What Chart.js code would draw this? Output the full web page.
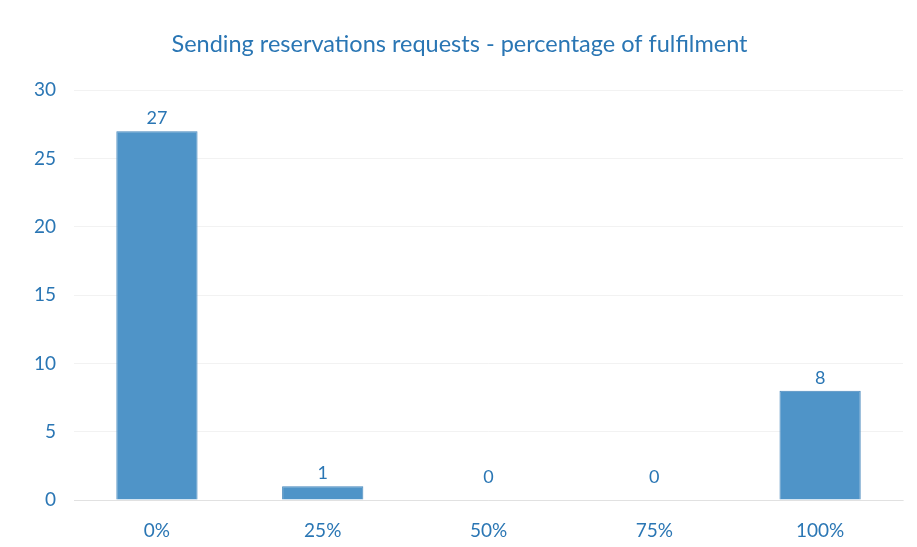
<!DOCTYPE html>
<html>
<head>
<meta charset="utf-8">
<script src="https://cdn.jsdelivr.net/npm/chart.js@4"></script>
<style>
  html, body { margin: 0; padding: 0; background: #ffffff; }
  #wrap { width: 917px; height: 547px; }
</style>
</head>
<body>
<div id="wrap"><canvas id="fulfilChart"></canvas></div>
<script>
// data
var categories = ["0%", "25%", "50%", "75%", "100%"];
var requestCounts = [27, 1, 0, 0, 8];
var yTicks = [0, 5, 10, 15, 20, 25, 30];

var textBlue = '#2a76b4';

// value labels above bars
var valueLabels = {
    id: 'valueLabels',
    afterDatasetsDraw: function(chart) {
        var ctx = chart.ctx;
        var meta = chart.getDatasetMeta(0);
        ctx.save();
        ctx.fillStyle = textBlue;
        ctx.font = '18px Lato';
        ctx.textAlign = 'center';
        ctx.textBaseline = 'bottom';
        meta.data.forEach(function(bar, i) {
            var v = chart.data.datasets[0].data[i];
            var y = bar.y - (v === 0 ? 14 : 4);
            ctx.fillText(String(v), bar.x, y);
        });
        ctx.restore();
    }
};

var ctx = document.getElementById('fulfilChart').getContext('2d');
new Chart(ctx, {
    type: 'bar',
    data: {
        labels: categories,
        datasets: [{
            label: '',
            data: requestCounts,
            backgroundColor: '#4f94c8',
            borderColor: '#4587bc',
            borderWidth: 1,
            barPercentage: 0.49,
            categoryPercentage: 1.0
        }]
    },
    options: {
        responsive: true,
        maintainAspectRatio: false,
        animation: false,
        layout: {
            padding: { top: 20, left: 16, right: 14, bottom: -14 }
        },
        scales: {
            x: {
                grid: { display: false, drawTicks: false },
                border: { color: 'rgba(0,0,0,0.07)' },
                ticks: {
                    color: textBlue,
                    padding: 21,
                    font: { family: 'Lato', size: 19, lineHeight: 1 }
                }
            },
            y: {
                min: 0,
                max: 30,
                afterBuildTicks: function(axis) {
                    axis.ticks = yTicks.map(function(v) { return { value: v }; });
                },
                grid: {
                    color: 'rgba(0,0,0,0.05)',
                    drawTicks: false
                },
                border: { display: false },
                ticks: {
                    color: textBlue,
                    padding: 18,
                    font: { family: 'Lato', size: 19 }
                }
            }
        },
        plugins: {
            legend: { display: false },
            tooltip: { enabled: false },
            title: {
                display: true,
                text: 'Sending reservations requests - percentage of fulfilment',
                color: textBlue,
                font: { family: 'Lato', size: 23.5, weight: 'normal' },
                padding: { top: 10, bottom: 32 }
            }
        }
    },
    plugins: [valueLabels]
});
</script>
</body>
</html>
